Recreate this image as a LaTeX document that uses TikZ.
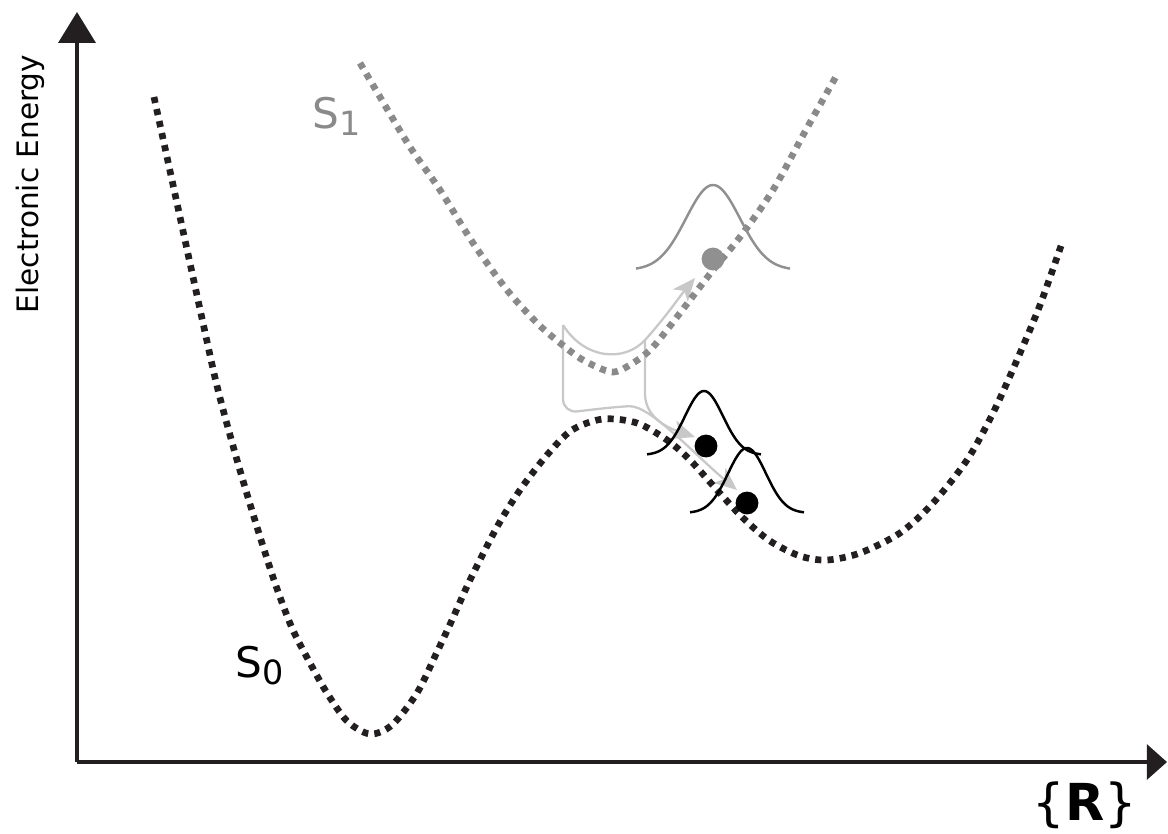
\documentclass[tikz,border=0pt]{standalone}
\usepackage{fontspec}
\setmainfont{DejaVu Sans}
\usetikzlibrary{arrows.meta}
\definecolor{sblack}{HTML}{231F20}
\definecolor{sgray}{HTML}{8A8A8A}
\definecolor{wgray}{HTML}{909090}
\definecolor{agray}{HTML}{C8C8C8}
\begin{document}
\begin{tikzpicture}[x=0.02cm,y=-0.02cm,
  axis/.style={draw=sblack, line width=1.8pt},
  pes/.style={line width=3.8pt, dash pattern=on 3.5pt off 3.5pt},
  flow/.style={draw=agray, line width=1.3pt, -{Stealth[length=13pt,width=11pt,inset=3.5pt]}},
  wave/.style={line width=1.4pt},
  bead/.style={circle, inner sep=0pt, minimum size=13pt},
  lbl/.style={inner sep=0pt}]
\useasboundingbox (0,0) rectangle (1168,833);
% axes
\coordinate (O) at (77,762);
\coordinate (Ytip) at (77,12);
\coordinate (Xtip) at (1167,762);
\draw[axis, -{Triangle[length=17.5pt,width=21pt]}] (O) -- (Ytip);
\draw[axis, -{Triangle[length=11.5pt,width=20pt]}] (O) -- (Xtip);
\node[lbl, rotate=90, anchor=base, font=\fontsize{16.8}{17}\selectfont] (ylab) at (38,184) {Electronic Energy};
\node[lbl, anchor=base, font=\fontsize{29}{29}\selectfont] (xlab) at (1085,820) {\{\textbf{R}\}};
% light grey flow arrows
\coordinate (a0) at (563,325);
\coordinate (b0) at (645,340);
\coordinate (tS1) at (695,278);
\coordinate (tA) at (737,490);
\coordinate (tB) at (695,437);
\draw[flow] (a0) .. controls (585,360) and (625,362) .. (b0) .. controls (665,318) and (680,296) .. (tS1);
\draw[flow, rounded corners=8] (a0) -- (563,413) -- (615,407) .. controls (650,405) and (695,455) .. (tA);
\draw[flow] (b0) -- (645,395) .. controls (646,418) and (668,428) .. (tB);
% potential energy surfaces
\draw[pes, sgray] plot[smooth, tension=0.5] coordinates {(360,63) (380,97) (410,147) (440,190) (473,243) (507,290) (537,323) (560,343) (583,360) (612,372) (633,363) (653,347) (680,313) (713,270) (740,237) (773,190) (807,128) (838,73)};
\draw[pes, sblack] plot[smooth, tension=0.5] coordinates {(154,97) (203,323) (218,390) (237,460) (257,527) (275,583) (292,628) (310,663) (327,693) (347,721) (370,734) (392,725) (417,693) (437,652) (452,620) (470,580) (497,527) (520,490) (547,455) (572,430) (603,419) (637,423) (667,440) (690,460) (717,490) (743,518) (770,541) (800,556) (827,560) (860,553) (900,533) (933,503) (967,460) (993,413) (1017,360) (1040,305) (1062,243)};
\node[lbl, anchor=base west, text=sgray, font=\fontsize{24}{24}\selectfont] (s1) at (312,128) {S\raisebox{-4pt}{\fontsize{19}{19}\selectfont 1}};
\node[lbl, anchor=base west, text=black, font=\fontsize{24}{24}\selectfont] (s0) at (235,677) {S\raisebox{-4pt}{\fontsize{19}{19}\selectfont 0}};
% wavepackets
\draw[wave, wgray] plot[domain=-77:77, samples=90] ({713+\x},{270-85*exp(-(\x*\x)/(2*27*27))});
\draw[wave, black] plot[domain=-57:57, samples=80] ({704+\x},{455-64*exp(-(\x*\x)/(2*19*19))});
\draw[wave, black] plot[domain=-57:57, samples=80] ({747+\x},{513-65*exp(-(\x*\x)/(2*19*19))});
\node[bead, fill=wgray] (g1) at (713,259) {};
\node[bead, fill=black] (k1) at (706,446) {};
\node[bead, fill=black] (k2) at (747,503) {};
\end{tikzpicture}
\end{document}
